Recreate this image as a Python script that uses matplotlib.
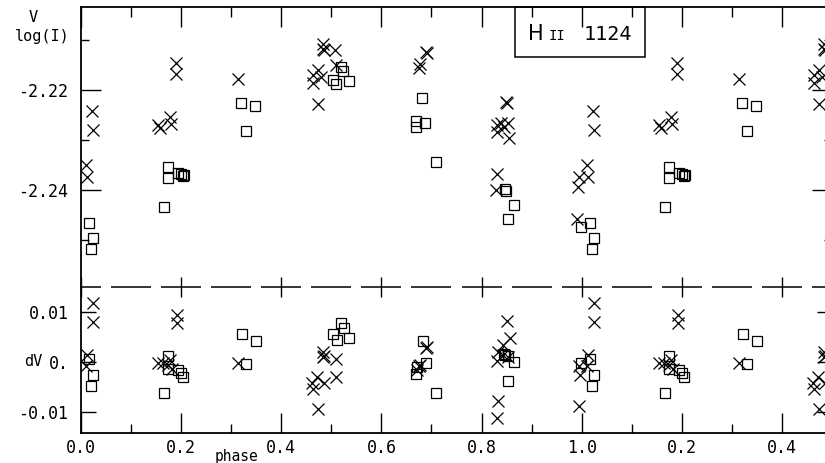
import numpy as np
import matplotlib.pyplot as plt
import matplotlib.transforms as mtransforms
from matplotlib.patches import Rectangle

plt.rcParams['font.family'] = ['DejaVu Sans Mono', 'DejaVu Sans']
plt.rcParams['axes.unicode_minus'] = False

# H II 1124 folded light curve, crosses = V, squares = log(I)
v_phase = [0.010, 0.012, 0.022, 0.024, 0.154, 0.158, 0.178, 0.180, 0.190, 0.190,
           0.314, 0.464, 0.464, 0.474, 0.480, 0.484, 0.484, 0.486, 0.508, 0.510,
           0.474, 0.690, 0.692, 0.678, 0.676, 0.848, 0.850, 0.830, 0.838, 0.852,
           0.830, 0.844, 0.854, 0.830, 0.828, 0.994, 0.992, 0.990]
v_mag = [-2.2350, -2.2374, -2.2242, -2.2280, -2.2270, -2.2276, -2.2254, -2.2268, -2.2146, -2.2168,
         -2.2178, -2.2170, -2.2186, -2.2160, -2.2174, -2.2108, -2.2118, -2.2120, -2.2120, -2.2150,
         -2.2228, -2.2124, -2.2126, -2.2148, -2.2156, -2.2224, -2.2226, -2.2270, -2.2266, -2.2266,
         -2.2284, -2.2274, -2.2296, -2.2368, -2.2400, -2.2374, -2.2394, -2.2458]

i_phase = [0.016, 0.024, 0.020, 0.166, 0.174, 0.174, 0.194, 0.200, 0.204, 0.206,
           0.320, 0.348, 0.330, 0.520, 0.524, 0.504, 0.510, 0.536, 0.682, 0.670,
           0.688, 0.670, 0.710, 0.846, 0.848, 0.864, 0.852, 0.999]
i_log = [-2.2466, -2.2496, -2.2518, -2.2434, -2.2354, -2.2376, -2.2366, -2.2368, -2.2372, -2.2370,
         -2.2226, -2.2232, -2.2282, -2.2154, -2.2162, -2.2180, -2.2188, -2.2182, -2.2216, -2.2262,
         -2.2266, -2.2274, -2.2344, -2.2398, -2.2402, -2.2430, -2.2458, -2.2474]

# residuals
dv_phase = [0.012, 0.010, 0.024, 0.024, 0.154, 0.164, 0.174, 0.178, 0.182, 0.192,
            0.192, 0.314, 0.474, 0.464, 0.462, 0.472, 0.486, 0.510, 0.484, 0.486,
            0.484, 0.510, 0.690, 0.692, 0.676, 0.678, 0.672, 0.850, 0.856, 0.842,
            0.832, 0.830, 0.842, 0.852, 0.832, 0.830, 0.994, 0.996, 0.994]
dv_v = [0.0015, -0.0007, 0.0118, 0.0080, -0.0001, -0.0001, -0.0005, 0.0005, -0.0013, 0.0094,
        0.0078, -0.0001, -0.0094, -0.0054, -0.0041, -0.0029, -0.0041, -0.0029, 0.0011, 0.0013,
        0.0021, 0.0007, 0.0029, 0.0031, -0.0007, -0.0005, -0.0015, 0.0082, 0.0049, 0.0035,
        0.0021, 0.0003, 0.0015, 0.0011, -0.0078, -0.0112, -0.0007, -0.0025, -0.0088]

di_phase = [0.016, 0.024, 0.020, 0.174, 0.174, 0.194, 0.200, 0.204, 0.166, 0.322,
            0.350, 0.330, 0.520, 0.526, 0.504, 0.512, 0.536, 0.684, 0.690, 0.672,
            0.670, 0.710, 0.844, 0.846, 0.852, 0.864, 0.852, 0.999]
di_i = [0.0007, -0.0025, -0.0047, 0.0013, -0.0013, -0.0015, -0.0021, -0.0029, -0.0062, 0.0056,
        0.0043, -0.0003, 0.0078, 0.0068, 0.0056, 0.0045, 0.0049, 0.0043, -0.0001, -0.0009,
        -0.0023, -0.0062, 0.0017, 0.0015, 0.0013, 0.0001, -0.0037, -0.0001]

x_ticks = [0.0, 0.2, 0.4, 0.6, 0.8, 1.0, 1.2, 1.4]
x_labels = ["0.0", "0.2", "0.4", "0.6", "0.8", "1.0", "0.2", "0.4"]
top_ticks = [-2.24, -2.22]
top_labels = ["-2.24", "-2.22"]
bot_ticks = [-0.01, 0.0, 0.01]
bot_labels = ["-0.01", "0.", "0.01"]


def wrap(ph, val):
    # show the first half of the cycle again after phase 1
    ph = np.asarray(ph)
    val = np.asarray(val)
    m = ph < 0.5
    return np.concatenate([ph, ph[m] + 1]), np.concatenate([val, val[m]])


W, H = 825, 463
fig = plt.figure(figsize=(W / 100, H / 100), dpi=100)
left, right = 81, 832
ax1 = fig.add_axes([left / W, 1 - 287 / H, (right - left) / W, 280 / H])
ax2 = fig.add_axes([left / W, 1 - 433 / H, (right - left) / W, 146 / H])

xs = dict(marker='x', ms=8.5, mew=0.9, mec='black', ls='none')
sq = dict(marker='s', ms=7.5, mew=0.9, mec='black', mfc='none', ls='none')

ax1.plot(*wrap(v_phase, v_mag), **xs)
ax1.plot(*wrap(i_phase, i_log), **sq)
ax2.plot(*wrap(dv_phase, dv_v), **xs)
ax2.plot(*wrap(di_phase, di_i), **sq)

ax1.set_xlim(0, 1.5)
ax2.set_xlim(0, 1.5)
ax1.set_ylim(-2.2594, -2.2034)
ax2.set_ylim(-0.0142, 0.015)

for ax in (ax1, ax2):
    for s in ax.spines.values():
        s.set_linewidth(1.3)
    ax.set_xticks(x_ticks)
    ax.set_xticks(np.arange(0.1, 1.5, 0.2), minor=True)
ax1.spines['bottom'].set_visible(False)
ax2.spines['top'].set_visible(False)

ax1.tick_params(axis='x', which='both', direction='in', top=True, bottom=False,
                labelbottom=False, width=1.0)
ax1.tick_params(axis='x', which='major', length=14.4)
ax1.tick_params(axis='x', which='minor', length=7)
ax2.set_xticklabels(x_labels)
ax2.tick_params(axis='x', which='both', direction='in', top=False, bottom=True,
                width=1.0, labelsize=12, pad=4)
ax2.tick_params(axis='x', which='major', length=14.4)
ax2.tick_params(axis='x', which='minor', length=6.5)

ax1.set_yticks(top_ticks)
ax1.set_yticklabels(top_labels)
ax1.set_yticks([-2.25, -2.23, -2.21], minor=True)
ax1.tick_params(axis='y', which='both', direction='in', left=True, right=True,
                width=1.0, labelsize=12, pad=9)
ax1.tick_params(axis='y', which='major', length=14.4)
ax1.tick_params(axis='y', which='minor', length=6)

ax2.set_yticks(bot_ticks)
ax2.set_yticklabels(bot_labels)
ax2.tick_params(axis='y', which='both', direction='in', left=True, right=True,
                width=1.0, length=11, labelsize=12, pad=9)

# dashed separator between the panels, with ticks through it
sep = mtransforms.blended_transform_factory(ax2.transData, ax2.transAxes)
centers = np.arange(0.0, 1.55, 0.1)
ax2.hlines(np.ones_like(centers), np.maximum(centers - 0.04, 0), centers + 0.04,
           colors='black', lw=1.1, transform=sep, clip_on=False)
ax2.vlines(x_ticks, 1 - 10 / 146, 1 + 10 / 146, colors='black', lw=1.0,
           transform=sep, clip_on=False)

# axis labels
fig.text(33 / W, 1 - 17 / H, "V", ha='center', va='center', fontsize=11)
fig.text(42 / W, 1 - 36 / H, "log(I)", ha='center', va='center', fontsize=11)
ylab = mtransforms.blended_transform_factory(fig.transFigure, ax2.transData)
ax2.text(33 / W, 0.0, "dV", ha='center', va='center', fontsize=11,
         transform=ylab)
fig.text(236 / W, 1 - 457 / H, "phase", ha='center', va='center', fontsize=10.5)

# star name box
fig.add_artist(Rectangle((515 / W, 1 - 57 / H), 130 / W, 50 / H, fill=False,
                         lw=1.1, ec='black', transform=fig.transFigure))
base = 1 - 40 / H
fig.text(528 / W, base, "H", ha='left', va='baseline', fontsize=15,
         family='DejaVu Sans')
fig.text(549 / W, base, "II", ha='left', va='baseline', fontsize=10)
fig.text(584 / W, base, "1124", ha='left', va='baseline', fontsize=14.5)

fig.savefig("out.png", dpi=100)
